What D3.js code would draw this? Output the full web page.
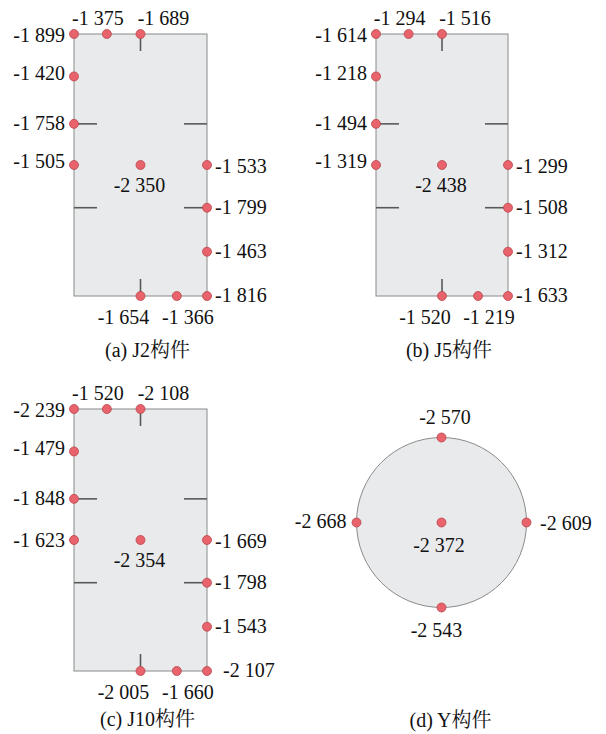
<!DOCTYPE html>
<html>
<head>
<meta charset="utf-8">
<script src="https://cdn.jsdelivr.net/npm/d3@7"></script>
<style>
  html, body { margin: 0; padding: 0; background: #ffffff; }
  svg { display: block; }
</style>
</head>
<body>
<div id="chart"></div>
<script>
// ---------- DATA ----------
// Measured strain values at the gauge points of each member
// Order for rectangular members: TL corner, top-1, top-mid, left-1, left-2, left-mid,
// centre, right-mid, right-2, right-3, BR corner, bottom-mid, bottom-1
const panelCaptions = ["(a) J2构件", "(b) J5构件", "(c) J10构件", "(d) Y构件"];
const valuesJ2  = [-1899, -1375, -1689, -1420, -1758, -1505, -2350, -1533, -1799, -1463, -1816, -1654, -1366];
const valuesJ5  = [-1614, -1294, -1516, -1218, -1494, -1319, -2438, -1299, -1508, -1312, -1633, -1520, -1219];
const valuesJ10 = [-2239, -1520, -2108, -1479, -1848, -1623, -2354, -1669, -1798, -1543, -2107, -2005, -1660];
// Circular member: top, left, right, centre, bottom
const valuesY   = [-2570, -2668, -2609, -2372, -2543];

// Gauge locations on the rectangular section (fraction of width u, fraction of height v)
const gaugeU = [0, 0.247, 0.5, 0, 0, 0, 0.5, 1, 1, 1, 1, 0.5, 0.773];
const gaugeV = [0, 0, 0, 0.162, 0.343, 0.5, 0.5, 0.5, 0.663, 0.831, 1, 1, 1];
// Gauge angles on the circular section (degrees, 0 = right, counter-clockwise) and radius fraction
const gaugeAngle = [90, 180, 0, 0, 270];
const gaugeRad   = [1, 1, 1, 0, 1];

// ---------- LAYOUT ----------
const W = 606, H = 734;
const FONT = "'Liberation Serif', 'Times New Roman', 'DejaVu Serif', serif";
const CJK = "'Liberation Serif', 'Noto Serif CJK SC', 'Noto Sans CJK SC', serif";

// label placement per gauge: anchor, dx, dy (dy = offset of label vertical centre)
const rectLabel = [
  ["end", -9, 1], ["middle", -9, -16], ["middle", 23, -16],
  ["end", -9, -3], ["end", -9, -1], ["end", -9, -4],
  ["middle", -1, 20],
  ["start", 8, 1], ["start", 8, 0], ["start", 8, 0], ["start", 8, -1],
  ["middle", -17, 21], ["middle", 11, 21]
];
const circLabel = [
  ["middle", 3.5, -20.5], ["end", -10, -1], ["start", 13.5, 1],
  ["middle", -2.5, 22.5], ["middle", -5, 22.5]
];

const panels = [
  { type: "rect", x0: 74,  y0: 34,  w: 133, h: 262, values: valuesJ2,  caption: panelCaptions[0], capY: 357, overrides: {} },
  { type: "rect", x0: 376, y0: 34,  w: 132, h: 262, values: valuesJ5,  caption: panelCaptions[1], capY: 357, overrides: {} },
  { type: "rect", x0: 74,  y0: 409, w: 133, h: 262, values: valuesJ10, caption: panelCaptions[2], capY: 726, overrides: {10: ["start", 16, -1], 5: ["end", -9, 0]} },
  { type: "circle", cx: 441.5, cy: 522.5, r: 85, values: valuesY, caption: panelCaptions[3], capY: 727 }
];

const fmt = d3.formatLocale({ decimal: ".", thousands: " ", grouping: [3], currency: ["", ""], minus: "-" }).format(",d");

const svg = d3.select("#chart").append("svg").attr("width", W).attr("height", H);

const SHAPE_FILL = "#e9eaeb", SHAPE_STROKE = "#8a8a8a";
const TICK = "#595959";
const PT_FILL = "#e8636b", PT_STROKE = "#b9464e";
const DIGIT_HALF = 6.7;

panels.forEach(p => {
  const g = svg.append("g");
  let xs, ys, pts, labels;
  if (p.type === "rect") {
    xs = d3.scaleLinear().domain([0, 1]).range([p.x0, p.x0 + p.w]);
    ys = d3.scaleLinear().domain([0, 1]).range([p.y0, p.y0 + p.h]);
    g.append("rect")
      .attr("x", xs(0)).attr("y", ys(0))
      .attr("width", xs(1) - xs(0)).attr("height", ys(1) - ys(0))
      .attr("fill", SHAPE_FILL).attr("stroke", SHAPE_STROKE).attr("stroke-width", 1);
    // stiffener marks
    const tl = 23, tv = 17;
    const marks = [
      [xs(0), ys(0.343), xs(0) + tl, ys(0.343)],
      [xs(1) - tl, ys(0.343), xs(1), ys(0.343)],
      [xs(0), ys(0.663), xs(0) + tl, ys(0.663)],
      [xs(1) - tl, ys(0.663), xs(1), ys(0.663)],
      [xs(0.5), ys(0), xs(0.5), ys(0) + tv],
      [xs(0.5), ys(1) - tv, xs(0.5), ys(1)]
    ];
    g.selectAll("line.mark").data(marks).join("line").attr("class", "mark")
      .attr("x1", d => d[0]).attr("y1", d => d[1]).attr("x2", d => d[2]).attr("y2", d => d[3])
      .attr("stroke", TICK).attr("stroke-width", 1.6);
    pts = p.values.map((v, i) => ({ v, x: xs(gaugeU[i]), y: ys(gaugeV[i]), lab: p.overrides[i] || rectLabel[i] }));
  } else {
    const rs = d3.scaleLinear().domain([0, 1]).range([0, p.r]);
    g.append("circle").attr("cx", p.cx).attr("cy", p.cy).attr("r", rs(1))
      .attr("fill", SHAPE_FILL).attr("stroke", SHAPE_STROKE).attr("stroke-width", 1);
    pts = p.values.map((v, i) => {
      const a = gaugeAngle[i] * Math.PI / 180;
      return { v, x: p.cx + rs(gaugeRad[i]) * Math.cos(a), y: p.cy - rs(gaugeRad[i]) * Math.sin(a), lab: circLabel[i] };
    });
  }
  g.selectAll("circle.pt").data(pts).join("circle").attr("class", "pt")
    .attr("cx", d => d.x).attr("cy", d => d.y).attr("r", 4.5)
    .attr("fill", PT_FILL).attr("stroke", PT_STROKE).attr("stroke-width", 0.8);
  g.selectAll("text.val").data(pts).join("text").attr("class", "val")
    .attr("x", d => d.x + d.lab[1]).attr("y", d => d.y + d.lab[2] + DIGIT_HALF)
    .attr("text-anchor", d => d.lab[0])
    .attr("font-family", FONT).attr("font-size", 20).attr("fill", "#111")
    .text(d => fmt(d.v));
  const capX = p.type === "rect" ? p.x0 + p.w / 2 + 7 : p.cx + 9;
  g.append("text").attr("x", capX).attr("y", p.capY)
    .attr("text-anchor", "middle").attr("font-family", CJK).attr("font-size", 20).attr("fill", "#111")
    .text(p.caption);
});
</script>
</body>
</html>
